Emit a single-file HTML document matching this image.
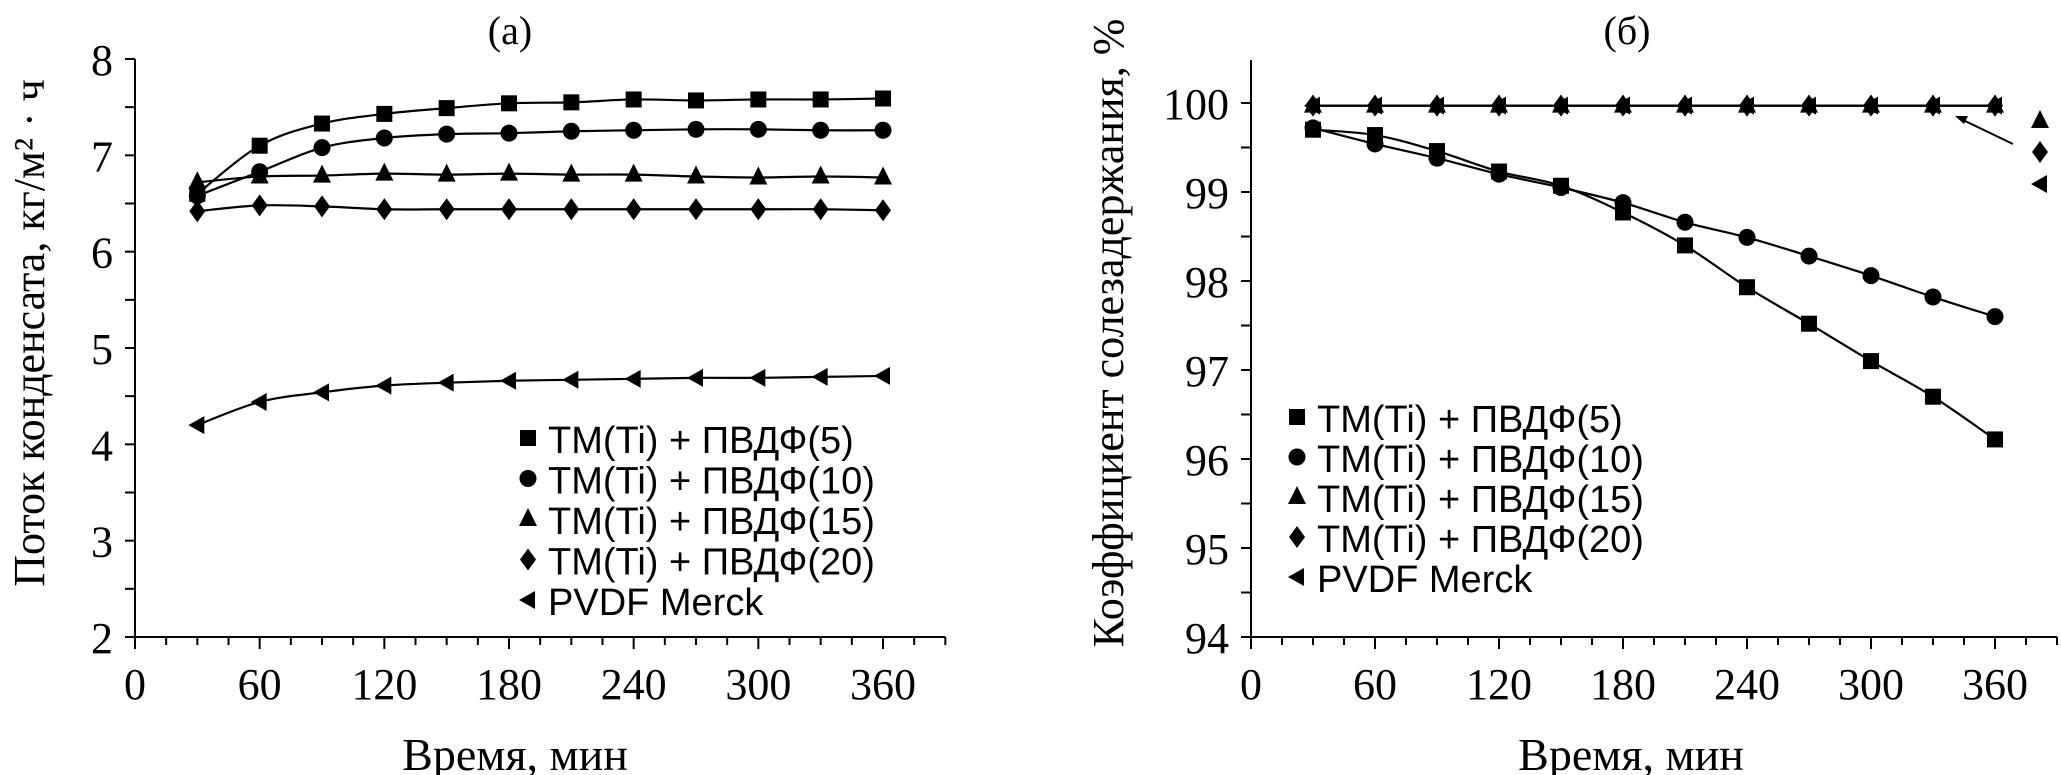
<!DOCTYPE html>
<html><head><meta charset="utf-8"><style>
html,body{margin:0;padding:0;background:#fff;}
svg{display:block;}
text{font-family:"Liberation Serif",serif;fill:#000;}
.lg{font-family:"Liberation Sans",sans-serif;font-size:38px;}
</style></head><body>
<svg id="c" width="2061" height="775" viewBox="0 0 2061 775"></svg>
<script>
const times=[30,60,90,120,150,180,210,240,270,300,330,360];
const seriesNames=["TM(Ti) + ПВДФ(5)","TM(Ti) + ПВДФ(10)","TM(Ti) + ПВДФ(15)","TM(Ti) + ПВДФ(20)","PVDF Merck"];
const markers=["square","circle","triangle","diamond","lefttri"];
const fluxS5=[6.6,7.1,7.33,7.43,7.49,7.54,7.55,7.58,7.57,7.58,7.58,7.59];
const fluxS10=[6.58,6.83,7.08,7.18,7.22,7.23,7.25,7.26,7.27,7.27,7.26,7.26];
const fluxS15=[6.72,6.78,6.79,6.81,6.80,6.81,6.80,6.80,6.78,6.77,6.78,6.77];
const fluxS20=[6.42,6.48,6.47,6.44,6.44,6.44,6.44,6.44,6.44,6.44,6.44,6.43];
const fluxMerck=[4.2,4.44,4.54,4.61,4.64,4.66,4.67,4.68,4.69,4.69,4.70,4.71];
const rejS5=[99.7,99.64,99.46,99.23,99.07,98.77,98.4,97.93,97.52,97.1,96.7,96.22];
const rejS10=[99.72,99.54,99.38,99.2,99.05,98.88,98.66,98.49,98.28,98.06,97.82,97.6];
const rejS15=[99.97,99.97,99.97,99.97,99.97,99.97,99.97,99.97,99.97,99.97,99.97,99.97];
const rejS20=[99.97,99.97,99.97,99.97,99.97,99.97,99.97,99.97,99.97,99.97,99.97,99.97];
const rejMerck=[99.97,99.97,99.97,99.97,99.97,99.97,99.97,99.97,99.97,99.97,99.97,99.97];
const xTicks=[0,60,120,180,240,300,360];
const yTicksA=[2,3,4,5,6,7,8];
const yTicksB=[94,95,96,97,98,99,100];

const svg=document.getElementById('c');
const NS="http://www.w3.org/2000/svg";
function el(t,a,p){const e=document.createElementNS(NS,t);for(const k in a)e.setAttribute(k,a[k]);(p||svg).appendChild(e);return e;}
function marker(g,type,x,y){
  let e;const s=8;
  if(type==="square")e=el('rect',{x:x-s,y:y-s,width:2*s,height:2*s},g);
  else if(type==="circle")e=el('circle',{cx:x,cy:y,r:8.5},g);
  else if(type==="triangle")e=el('polygon',{points:`${x},${y-11} ${x+9},${y+7} ${x-9},${y+7}`},g);
  else if(type==="diamond")e=el('polygon',{points:`${x},${y-11} ${x+8},${y} ${x},${y+11} ${x-8},${y}`},g);
  else e=el('polygon',{points:`${x-9},${y} ${x+7},${y-9} ${x+7},${y+9}`},g);
  e.setAttribute('fill','#000');
  
  
  return e;
}
function smooth(pts){
  let d=`M${pts[0][0]},${pts[0][1]}`;
  for(let i=0;i<pts.length-1;i++){
    const p0=pts[Math.max(i-1,0)],p1=pts[i],p2=pts[i+1],p3=pts[Math.min(i+2,pts.length-1)];
    d+=` C${p1[0]+(p2[0]-p0[0])/6},${p1[1]+(p2[1]-p0[1])/6} ${p2[0]-(p3[0]-p1[0])/6},${p2[1]-(p3[1]-p1[1])/6} ${p2[0]},${p2[1]}`;
  }
  return d;
}
function chart(o){
  const g=el('g',{});
  
  
  const X=v=>o.x0+(v-0)*(o.x360-o.x0)/360;
  const Y=v=>o.yb+(v-o.ymin)*(o.yt-o.yb)/(o.ymax-o.ymin);
  const ax=el('path',{d:`M${o.x0},${o.axTop} V${o.yb} H${X(390)}`,stroke:'#000','stroke-width':2,fill:'none'},g);
  
  for(let v=0;v<=390;v+=15){const l=v%60===0?12:8;el('line',{x1:X(v),x2:X(v),y1:o.yb,y2:o.yb+l,stroke:'#000','stroke-width':2},g);}
  for(let v=o.ymin;v<=o.ymax+1e-9;v+=0.5){el('line',{x1:o.x0-10,x2:o.x0,y1:Y(v),y2:Y(v),stroke:'#000','stroke-width':2},g);}
  xTicks.forEach(v=>{const t=el('text',{x:X(v),y:o.yb+62,'font-size':44,'text-anchor':'middle'},g);t.textContent=v;});
  o.yTicks.forEach(v=>{const t=el('text',{x:o.x0-22,y:Y(v)+16,'font-size':44,'text-anchor':'end'},g);t.textContent=v;});
  o.series.forEach((s,i)=>{
    const pts=times.map((t,j)=>[X(t),Y(s[j])]);
    const p=el('path',{d:smooth(pts),stroke:'#000','stroke-width':2.2,fill:'none'},g);
    
    pts.forEach(q=>marker(g,markers[i],q[0],q[1]));
  });
  seriesNames.forEach((n,i)=>{
    const y=o.legY+i*o.legDy;
    marker(g,markers[i],o.legX,y-2);
    const t=el('text',{x:o.legX+20,y:y+13,class:'lg'},g);t.textContent=n;
    
  });
  const tt=el('text',{x:o.titleX,y:44,'font-size':40,'text-anchor':'middle'},g);tt.textContent=o.title;
  
  const xt=el('text',{x:o.xtX,y:770,'font-size':46,'text-anchor':'middle'},g);xt.textContent="Время, мин";
  
  const yt=el('text',{x:0,y:0,'font-size':44,'text-anchor':'middle',transform:`translate(${o.ytX},${o.ytY}) rotate(-90)`},g);yt.textContent=o.ytitle;
  
  return {X,Y,g};
}
chart({name:'chart-a',x0:135,x360:883,yb:637,yt:59,ymin:2,ymax:8,axTop:59,yTicks:yTicksA,
  series:[fluxS5,fluxS10,fluxS15,fluxS20,fluxMerck],legX:528,legY:440,legDy:40.5,
  title:"(a)",titleX:510,xtX:515,ytX:44,ytY:333,ytitle:"Поток конденсата, кг/м² · ч"});
const b=chart({name:'chart-b',x0:1251,x360:1995,yb:637,yt:103,ymin:94,ymax:100,axTop:60,yTicks:yTicksB,
  series:[rejS5,rejS10,rejS15,rejS20,rejMerck],legX:1297,legY:419,legDy:40,
  title:"(б)",titleX:1627,xtX:1631,ytX:1123,ytY:333,ytitle:"Коэффициент солезадержания, %"});
marker(b.g,'triangle',2040,121);
marker(b.g,'diamond',2040,152);
marker(b.g,'lefttri',2040,184);
const ar=el('line',{x1:2013,y1:144,x2:1963,y2:120,stroke:'#000','stroke-width':2},b.g);

const ah=el('polygon',{points:'1955,116 1968,116 1964,124',fill:'#000'},b.g);

</script>
</body></html>
